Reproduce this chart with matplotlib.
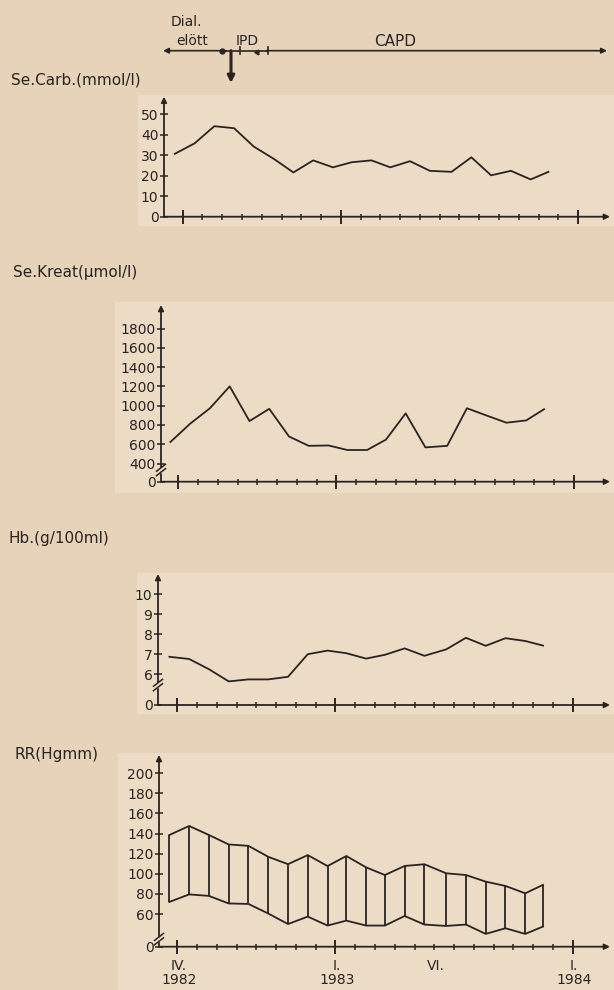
import matplotlib
matplotlib.use("Agg")
import matplotlib.pyplot as plt

# ================= data =================
# measurement times in months, counted from IV.1982
months = [-0.4, 0.6, 1.6, 2.6, 3.6, 4.6, 5.6, 6.6, 7.6, 8.55,
          9.55, 10.5, 11.5, 12.5, 13.6, 14.6, 15.6, 16.6, 17.6, 18.5]

carb = [30.7, 35.8, 44.2, 43.2, 34.2, 28.3, 21.6, 27.5, 24.1, 26.6,
        27.5, 24.1, 27.1, 22.4, 21.9, 29.0, 20.2, 22.4, 18.2, 21.9]
kreat = [623, 813, 973, 1200, 840, 967, 680, 583, 587, 540,
         540, 647, 920, 567, 583, 973, 897, 823, 847, 963]
hb = [6.86, 6.75, 6.24, 5.63, 5.73, 5.73, 5.86, 6.99, 7.17, 7.04,
      6.77, 6.96, 7.28, 6.91, 7.23, 7.81, 7.41, 7.79, 7.65, 7.42]
rr_sys = [138.6, 147.6, 138.6, 129.2, 127.8, 116.9, 109.6, 118.6, 107.7, 117.7,
          106.4, 98.8, 107.8, 109.5, 100.5, 98.8, 92.2, 87.9, 80.6, 89.0]
rr_dia = [72.0, 79.5, 78.0, 70.5, 70.0, 60.5, 50.0, 57.4, 48.5, 53.4,
          48.5, 48.5, 58.0, 49.5, 48.1, 49.5, 40.2, 45.8, 40.2, 47.5]

carb_ticks = [0, 10, 20, 30, 40, 50]
kreat_ticks = [400, 600, 800, 1000, 1200, 1400, 1600, 1800]
hb_ticks = [6, 7, 8, 9, 10]
rr_ticks = [60, 80, 100, 120, 140, 160, 180, 200]

major_months = [0, 8, 20]
minor_months = [m for m in range(1, 20) if m not in major_months]
date_pos = [0, 8, 13, 20]
date_lab = ["IV.\n1982", "I.\n1983", "VI.", "I.\n1984"]

# ================= style =================
W, H = 614, 990
PAPER = "#e7d3b9"
CARD = "#ecdbc5"
INK = "#2a2420"
MPX = 19.77          # pixels per month
RIGHT = 610
plt.rcParams["font.family"] = ["DejaVu Sans"]

fig = plt.figure(figsize=(W / 100, H / 100), dpi=100, facecolor=PAPER)

# overlay in pixel units for the paper cards and the header
bg = fig.add_axes([0, 0, 1, 1], zorder=0)
bg.set_xlim(0, W)
bg.set_ylim(H, 0)
bg.axis("off")
for (x0, y0, y1) in [(138, 95, 226), (115, 302, 493), (137, 573, 714), (118, 753, 990)]:
    bg.add_patch(plt.Rectangle((x0, y0), W - x0, y1 - y0, color=CARD, lw=0))

# header: treatment periods
bg.annotate("", xy=(163, 50.7), xytext=(226, 50.7),
            arrowprops=dict(arrowstyle="-|>", color=INK, lw=1.2, mutation_scale=8, shrinkA=0, shrinkB=0))
bg.annotate("", xy=(607, 50.7), xytext=(266, 50.7),
            arrowprops=dict(arrowstyle="-|>", color=INK, lw=1.2, mutation_scale=8, shrinkA=0, shrinkB=0))
bg.plot([222, 268], [50.7, 50.7], color=INK, lw=1.2)
bg.plot([222], [50.7], "o", color=INK, ms=3.5)
bg.plot([240, 240], [47, 54], color=INK, lw=1.2)
bg.plot([268, 268], [47, 54], color=INK, lw=1.2)
bg.plot([257], [52], marker=(3, 0, -30), color=INK, ms=4)
bg.annotate("", xy=(231, 83), xytext=(231, 50.7),
            arrowprops=dict(arrowstyle="-|>", color=INK, lw=2.2, mutation_scale=10, shrinkA=0, shrinkB=0))
bg.text(186, 22, "Dial.", ha="center", va="center", fontsize=10, color=INK)
bg.text(192, 41, "elött", ha="center", va="center", fontsize=10, color=INK)
bg.text(247, 41, "IPD", ha="center", va="center", fontsize=10, color=INK)
bg.text(395, 41, "CAPD", ha="center", va="center", fontsize=11, color=INK)

# panel titles
bg.text(11, 80, "Se.Carb.(mmol/l)", ha="left", va="center", fontsize=11, color=INK)
bg.text(13, 272, "Se.Kreat(µmol/l)", ha="left", va="center", fontsize=11, color=INK)
bg.text(8, 539, "Hb.(g/100ml)", ha="left", va="center", fontsize=11, color=INK)
bg.text(15, 755, "RR(Hgmm)", ha="left", va="center", fontsize=11, color=INK)


def panel(left, x0, bottom, top, ref, ticks, brk=None):
    (v1, p1), (v2, p2) = ref
    k = (p1 - p2) / (v2 - v1)                # pixels per unit
    ylo = v1 - (bottom - p1) / k
    yhi = v1 + (p1 - top) / k
    ax = fig.add_axes([left / W, 1 - bottom / H, (RIGHT - left) / W, (bottom - top) / H], zorder=2)
    ax.set_xlim((left - x0) / MPX, (RIGHT - x0) / MPX)
    ax.set_ylim(ylo, yhi)
    ax.patch.set_alpha(0)
    for s in ax.spines.values():
        s.set_visible(False)
    arr = dict(arrowstyle="-|>", color=INK, lw=1.3, mutation_scale=8, shrinkA=0, shrinkB=0)
    ax.annotate("", xy=(0, 1), xytext=(0, 0), xycoords="axes fraction", arrowprops=arr)
    ax.annotate("", xy=(1, 0), xytext=(0, 0), xycoords="axes fraction", arrowprops=arr)

    if brk is not None:
        xl = (left - x0) / MPX
        dx = 4.5 / MPX
        for off in (-2.2, 2.2):
            yb = brk + off / k
            ax.plot([xl - dx, xl + dx], [yb - 3.5 / k, yb + 3.5 / k],
                    color=INK, lw=1.1, clip_on=False, zorder=5)
        ax.plot([xl, xl], [brk - 1.2 / k, brk + 1.2 / k], color=CARD, lw=2.5,
                clip_on=False, zorder=4)
        ticks_pos = [ylo] + ticks
        labels = ["0"] + [str(t) for t in ticks]
    else:
        ticks_pos = ticks
        labels = [str(t) for t in ticks]
    ax.set_yticks(ticks_pos, labels)
    ax.tick_params(axis="y", direction="inout", length=6, width=1.1, pad=1,
                   labelsize=10, colors=INK)
    ax.set_xticks(major_months)
    ax.set_xticks(minor_months, minor=True)
    ax.tick_params(axis="x", which="major", direction="inout", length=10, width=1.4,
                   labelbottom=False, colors=INK)
    ax.tick_params(axis="x", which="minor", direction="inout", length=5, width=1.1,
                   labelbottom=False, colors=INK)
    return ax


lw_data = 1.3

ax1 = panel(164, 182.7, 216.7, 96.7, ((0, 216.7), (50, 114.3)), carb_ticks)
ax1.plot(months, carb, color=INK, lw=lw_data)

ax2 = panel(161, 178.3, 481.7, 305, ((400, 463.5), (1800, 328.5)), kreat_ticks, brk=333)
ax2.plot(months, kreat, color=INK, lw=lw_data)

ax3 = panel(158, 177.3, 705, 574, ((6, 674), (10, 594)), hb_ticks, brk=5.45)
ax3.plot(months, hb, color=INK, lw=lw_data)

ax4 = panel(159, 177.3, 946.7, 755, ((60, 914), (200, 773.3)), rr_ticks, brk=35)
ax4.plot(months, rr_sys, color=INK, lw=lw_data)
ax4.plot(months, rr_dia, color=INK, lw=lw_data)
ax4.vlines(months, rr_dia, rr_sys, color=INK, lw=lw_data)
for m, lab in zip(date_pos, date_lab):
    ax4.annotate(lab, xy=(m, 0), xycoords=("data", "axes fraction"),
                 xytext=(1, -9), textcoords="offset points",
                 ha="center", va="top", fontsize=10, color=INK, linespacing=0.95)

fig.savefig("out.png", dpi=100, facecolor=PAPER)
